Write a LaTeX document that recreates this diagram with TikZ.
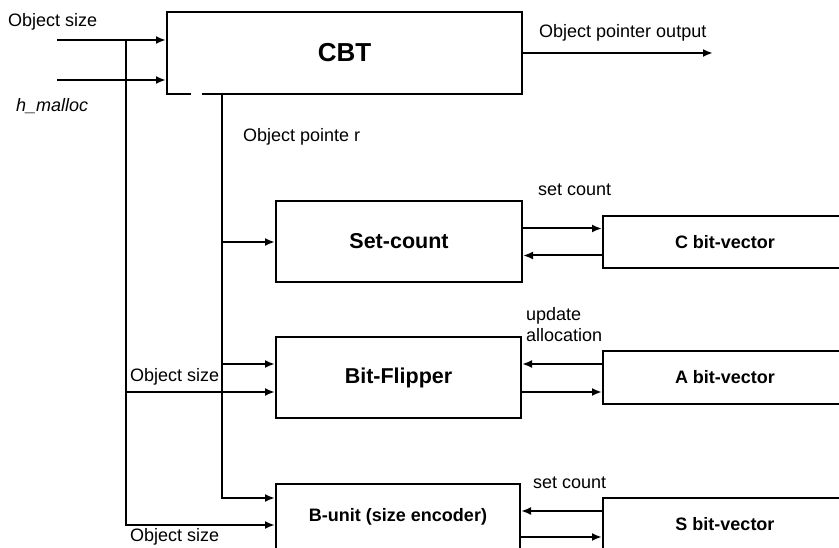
\documentclass[tikz,border=0pt]{standalone}
\usepackage{fontspec}
\setmainfont{Liberation Sans}
\usepackage{tikz}
\usetikzlibrary{positioning,arrows.meta,calc}

\begin{document}
\begin{tikzpicture}[
x=1pt, y=-1pt,
box/.style={draw, line width=2pt, align=center, font=\fontsize{21.5}{24}\selectfont\bfseries},
vecbox/.style={box, minimum width=244pt, minimum height=52pt, font=\fontsize{18}{21}\selectfont\bfseries},
lbl/.style={inner sep=0pt, anchor=west, align=left, font=\fontsize{18}{21}\selectfont},
arrow/.style={-{Latex[length=10pt,width=8pt]}, line width=2pt}
]
\path[use as bounding box, clip] (0,0) rectangle (839,548);
% main blocks
\node[box, minimum width=355pt, minimum height=82pt, font=\fontsize{26}{30}\selectfont\bfseries] (cbt) at (344.5,53) {CBT};
\node[box, minimum width=246pt, minimum height=81pt] (setc) at (399,241.5) {Set-count};
\node[box, minimum width=245pt, minimum height=81pt] (flip) at (398.5,377.5) {Bit-Flipper};
\node[box, minimum width=244pt, minimum height=66pt, font=\fontsize{18}{21}\selectfont\bfseries] (bunit) at (398,517) {B-unit (size encoder)};
% bit vectors
\node[vecbox] (cvec) at (725,242) {C bit-vector};
\node[vecbox] (avec) at (725,377.5) {A bit-vector};
\node[vecbox] (svec) at (725,524) {S bit-vector};
% gap in the CBT frame
\draw[white, line width=4pt] ($(cbt.south west)+(25,0)$) -- ($(cbt.south west)+(36,0)$);

% inputs
\coordinate (szin) at (57,40);
\coordinate (hin) at (57,80);
\coordinate (out) at (713,53);
\node[lbl] (szlbl) at (8,22) {Object size};
\node[lbl, font=\fontsize{18}{21}\selectfont\itshape] (hlbl) at (16,106) {h\_malloc};
\draw[arrow] (szin) -- (szin -| cbt.west);
\draw[arrow] (hin) -- (hin -| cbt.west);
\draw[arrow] (cbt.east) -- (out);
\node[lbl] (outlbl) at (539,33) {Object pointer output};

% object size trunk
\coordinate (sztop) at (126,40);
\coordinate (szflip) at (126,392);
\coordinate (szbot) at (126,525);
\draw[arrow] (sztop) -- (szbot) -- (szbot -| bunit.west);
\draw[arrow] (szflip) -- (szflip -| flip.west);
\node[lbl] (szlbl2) at (130,377) {Object size};
\node[lbl] (szlbl3) at (130,537) {Object size};

% object pointer trunk
\coordinate (ptop) at (222,94);
\coordinate (pset) at (222,242);
\coordinate (pflip) at (222,364);
\coordinate (pbot) at (222,498);
\draw[arrow] (ptop) -- (pbot) -- (pbot -| bunit.west);
\draw[arrow] (pset) -- (pset -| setc.west);
\draw[arrow] (pflip) -- (pflip -| flip.west);
\node[lbl] (ptrlbl) at (243,137) {Object pointe r};

% set-count <-> C bit-vector
\draw[arrow] ([yshift=13.5pt]cvec.west -| setc.east) -- ([yshift=13.5pt]cvec.west);
\draw[arrow] ([yshift=-13.5pt]cvec.west) -- ([yshift=-13.5pt]cvec.west -| setc.east);
\node[lbl] (setlbl) at (538,190) {set count};

% bit-flipper <-> A bit-vector
\draw[arrow] ([yshift=13.5pt]avec.west) -- ([yshift=13.5pt]avec.west -| flip.east);
\draw[arrow] ([yshift=-14.5pt]avec.west -| flip.east) -- ([yshift=-14.5pt]avec.west);
\node[lbl] (updlbl) at (526,325) {update\\allocation};

% b-unit <-> S bit-vector
\draw[arrow] ([yshift=13pt]svec.west) -- ([yshift=13pt]svec.west -| bunit.east);
\draw[arrow] ([yshift=-13pt]svec.west -| bunit.east) -- ([yshift=-13pt]svec.west);
\node[lbl] (setlbl2) at (533,483) {set count};
\end{tikzpicture}
\end{document}
